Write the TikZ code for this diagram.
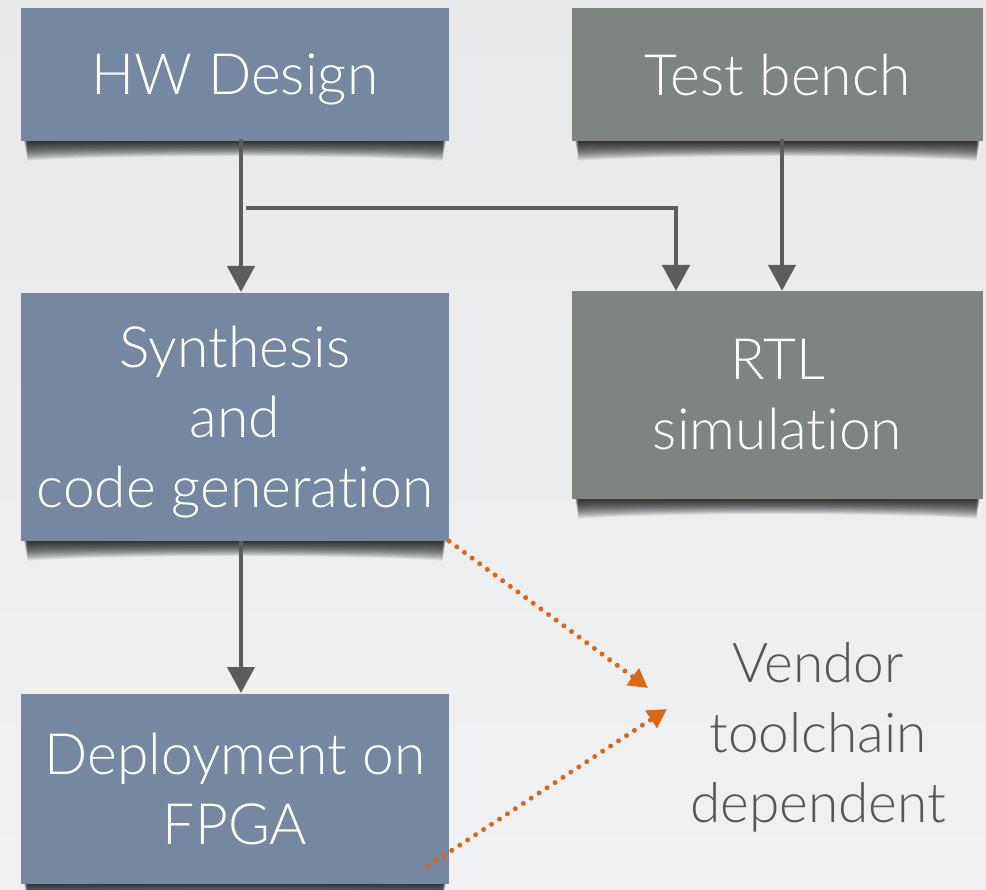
\documentclass[tikz,border=0pt]{standalone}
\usepackage{fontspec}
\IfFontExistsTF{Lato Light}
  {\setmainfont{Lato Light}[Ligatures={NoCommon,NoDiscretionary,NoContextual}]}
  {\setmainfont{Lato}[Ligatures={NoCommon,NoDiscretionary,NoContextual}]}
\usetikzlibrary{arrows.meta,calc}

\definecolor{bgtop}{HTML}{E8E9EB}
\definecolor{bgbot}{HTML}{F0F1F3}
\definecolor{flowblue}{HTML}{7687A1}
\definecolor{flowgray}{HTML}{7E8480}
\definecolor{linkgray}{HTML}{5A5D5B}
\definecolor{vendororange}{HTML}{DD6516}
\definecolor{notegray}{HTML}{555757}

% curved soft shadow under a box: x-left, x-right, y-bottom
\newcommand{\boxshade}[3]{%
  \foreach \k in {1,...,18}{%
    \pgfmathsetmacro{\dd}{1.1*\k}%
    \pgfmathsetmacro{\mm}{0.75*\k}%
    \fill[black, opacity=0.075]
      (#1+3+0.2*\k, #3-8) -- (#1+3+0.2*\k, #3+\dd)
      .. controls (#1+90, #3+\mm) and (#2-90, #3+\mm) .. (#2-3-0.2*\k, #3+\dd)
      -- (#2-3-0.2*\k, #3-8) -- cycle;
  }%
}

\tikzset{
  stage/.style={rectangle, inner sep=0pt, text=white, align=center,
    font=\fontsize{57}{70}\selectfont},
  bluestage/.style={stage, fill=flowblue},
  graystage/.style={stage, fill=flowgray},
  oneline/.style={text depth=0pt},
  flow/.style={draw=linkgray, line width=4.6pt,
    -{Triangle[width=27pt,length=26pt]}},
  vendorlink/.style={draw=vendororange, line width=5pt, line cap=round,
    dash pattern=on 0pt off 9.5pt,
    -{Triangle[width=20pt,length=19pt,line cap=butt]}},
}

\begin{document}
\begin{tikzpicture}[x=1pt, y=-1pt]
  % page background
  \shade[top color=bgtop, bottom color=bgbot] (0,0) rectangle (986,890);
  \useasboundingbox (0,0) rectangle (986,890);

  % shadows
  \boxshade{21}{449}{141}
  \boxshade{572}{983}{141}
  \boxshade{21}{449}{541}
  \boxshade{572}{983}{499}
  \boxshade{21}{449}{884}

  % stages
  \node[bluestage, oneline, minimum width=428pt, minimum height=133pt] (hw) at (235,74.5) {HW Design};
  \node[graystage, oneline, minimum width=411pt, minimum height=133pt] (tb) at (777.5,74.5) {Test bench};
  \node[bluestage, minimum width=428pt, minimum height=248pt] (syn) at (235,417) {};
  \node[white, align=center, font=\fontsize{57}{70}\selectfont] (syntext) at (235,422) {Synthesis\\and\\code generation};
  \node[graystage, minimum width=411pt, minimum height=208pt] (rtl) at (777.5,395) {RTL\\simulation};
  \node[bluestage, minimum width=428pt, minimum height=190pt] (dep) at (235,789) {Deployment on\\FPGA};

  % note
  \node[text=notegray, align=center, font=\fontsize{55}{70}\selectfont] (vendor) at (818,737) {Vendor\\toolchain\\dependent};

  % connector anchors
  \coordinate (hwout) at (241,139);
  \coordinate (synin) at (241,292);
  \coordinate (synout) at (241,541);
  \coordinate (depin) at (241,693);
  \coordinate (split) at (246,208);
  \coordinate (rtlin) at (676,291);
  \coordinate (tbout) at (782,139);
  \coordinate (synhit) at (648,688);
  \coordinate (depfrom) at (428,866);
  \coordinate (dephit) at (667,709);

  % flow arrows
  \draw[flow] (hwout) -- (synin);
  \draw[flow] (split) -| (rtlin);
  \draw[flow] (tbout) -- (tbout |- rtl.north);
  \draw[flow] (synout) -- (depin);

  % vendor-dependent links
  \draw[vendorlink] (syn.south east) -- (synhit);
  \draw[vendorlink] (depfrom) -- (dephit);
\end{tikzpicture}
\end{document}
